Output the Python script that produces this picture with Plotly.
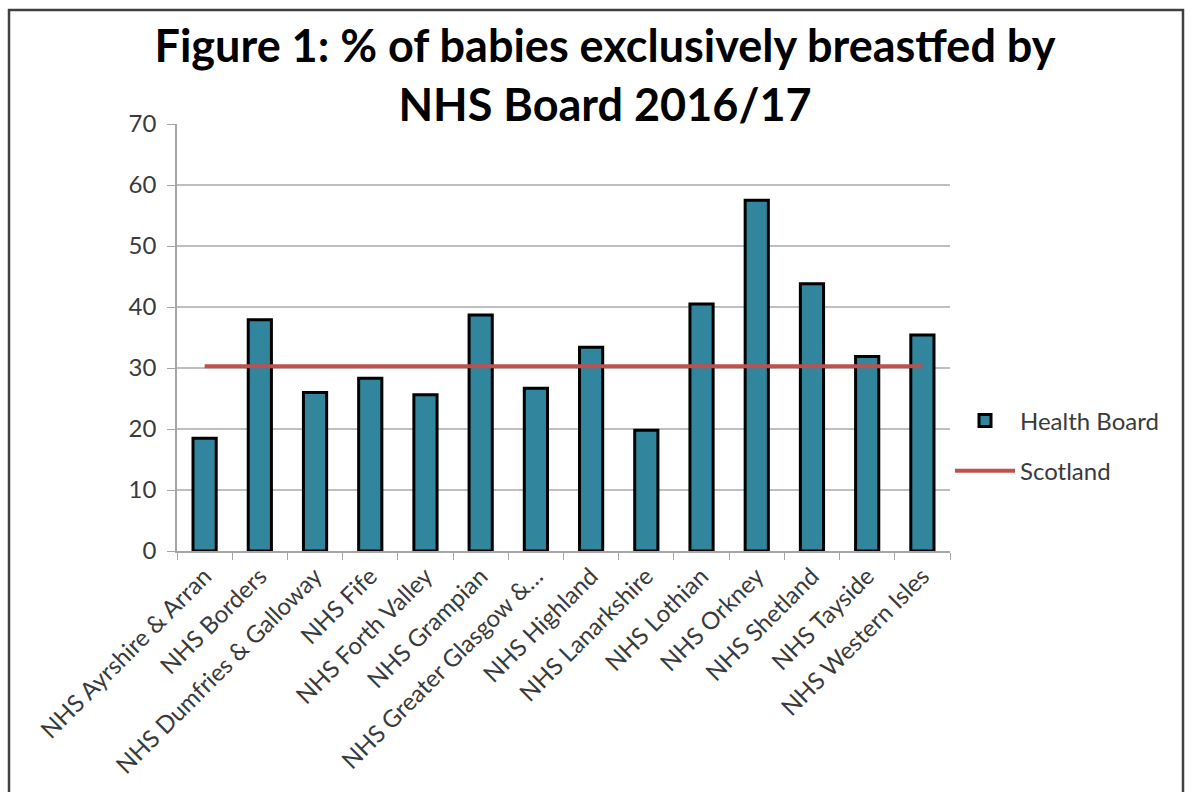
import plotly.graph_objects as go

boards = ["NHS Ayrshire & Arran", "NHS Borders", "NHS Dumfries & Galloway", "NHS Fife",
          "NHS Forth Valley", "NHS Grampian", "NHS Greater Glasgow &…", "NHS Highland",
          "NHS Lanarkshire", "NHS Lothian", "NHS Orkney", "NHS Shetland", "NHS Tayside",
          "NHS Western Isles"]
health_board = [18.5, 37.9, 26.0, 28.3, 25.6, 38.7, 26.7, 33.4, 19.8, 40.5, 57.5, 43.8, 31.9, 35.4]
scotland = [30.3] * len(boards)
y_ticks = [0, 10, 20, 30, 40, 50, 60, 70]

FONT = "Lato"
TXT = "#3a3a3a"

fig = go.Figure()
fig.add_trace(go.Bar(
    x=boards, y=health_board, name="Health Board",
    marker=dict(color="#31859C", line=dict(color="#000000", width=3)),
    legendgroup="a",
))
fig.add_trace(go.Scatter(
    x=boards, y=scotland, name="Scotland", mode="lines",
    line=dict(color="#C0504D", width=4),
    legendgroup="b",
))

L, R, T, B = 177, 235, 124, 241
W, H = 1185, 792
pw = W - L - R
ph = H - T - B

def px(xpix):
    return (xpix - L) / pw

def py(ypix):
    return (H - B - ypix) / ph

fig.add_shape(type="rect", xref="paper", yref="paper",
              x0=px(9), x1=px(1183), y0=py(830), y1=py(10),
              line=dict(color="#404040", width=2.5), fillcolor="rgba(0,0,0,0)", layer="below")

fig.update_layout(
    width=W, height=H,
    margin=dict(l=L, r=R, t=T, b=B),
    paper_bgcolor="white", plot_bgcolor="white",
    font=dict(family=FONT, color=TXT, size=24),
    title=dict(
        text="<b>Figure 1: % of babies exclusively breastfed by<br>NHS Board 2016/17</b>",
        x=(605 / W), xanchor="center", xref="container", y=1 - 62 / H, yanchor="middle",
        yref="container",
        font=dict(family=FONT, size=45, color="#000000"),
    ),
    bargap=0.58,
    showlegend=True,
    legend=dict(x=1.0, xanchor="left", y=py(446), yanchor="middle",
                font=dict(family=FONT, size=24, color=TXT),
                itemwidth=60, tracegroupgap=16, bgcolor="rgba(0,0,0,0)"),
    xaxis=dict(
        type="category", tickangle=-45, tickson="boundaries",
        ticks="outside", ticklen=7, tickcolor="#A6A6A6",
        showline=True, linecolor="#A6A6A6", linewidth=1.5,
        showgrid=False, tickfont=dict(family=FONT, size=24, color=TXT),
    ),
    yaxis=dict(
        range=[0, 70], tickvals=y_ticks, ticks="outside", ticklen=8,
        tickcolor="#A6A6A6", showline=True, linecolor="#A6A6A6", linewidth=1.5,
        showgrid=True, gridcolor="#BFBFBF", gridwidth=1.5, zeroline=False,
        ticklabelstandoff=6,
        tickfont=dict(family=FONT, size=24, color=TXT),
    ),
)

fig.write_html("out.html")
